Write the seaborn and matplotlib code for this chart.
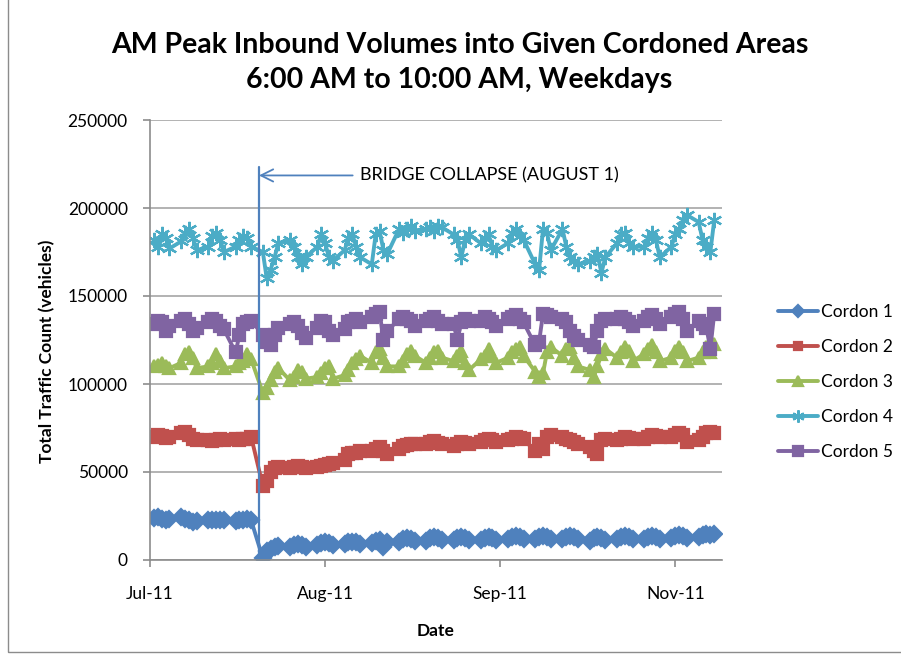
import numpy as np
import pandas as pd
import matplotlib
matplotlib.use("Agg")
import matplotlib.pyplot as plt
from matplotlib.patches import Rectangle
import seaborn as sns

# weekday dates of the counts (one week per row in the lists below)
dates = pd.bdate_range("2007-07-02", "2007-11-23")

cordon_1 = [
    24000, 24500, 23500, 23000, 23500,
    24500, 23500, 22500, 21500, 22000,
    22500, 23000, 22500, 23000, 22500,
    22000, 22500, 23000, 23500, 22500,
    1000, 5000, 6500, 7500, 8000,
    7500, 8500, 9000, 8500, 7500,
    8500, 9500, 10000, 9500, 8500,
    9000, 10000, 10500, 10000, 9000,
    9500, 11000, 11500, 7500, 10000,
    10500, 12000, 12500, 12000, 11000,
    11000, 12500, 13000, 12500, 11500,
    11500, 12500, 13000, 12500, 11500,
    11500, 12500, 13000, 12500, 11500,
    12000, 13000, 13500, 13000, 12000,
    12000, 13000, 13500, 13000, 12000,
    12000, 13000, 13500, 13000, 12000,
    11000, 12500, 13000, 12500, 11500,
    12000, 13000, 13500, 13000, 12000,
    12000, 13000, 13500, 13000, 12000,
    12500, 13500, 14000, 13500, 12500,
    13000, 14000, 14500, 14000, 14500,
]
cordon_2 = [
    70000, 71000, 70500, 69500, 70000,
    72000, 72500, 71000, 68500, 68000,
    68000, 67500, 68000, 68500, 68000,
    69000, 68000, 68500, 69000, 70000,
    42000, 45000, 50000, 52000, 53000,
    52000, 53000, 53500, 53000, 52500,
    53000, 53500, 54000, 54500, 55000,
    57000, 60000, 61000, 61000, 62000,
    62000, 63000, 64000, 62000, 60000,
    63000, 65000, 65500, 66000, 66000,
    66000, 67000, 67500, 66500, 66000,
    65000, 66000, 67000, 66500, 66000,
    67000, 68000, 68500, 68000, 67000,
    68000, 69000, 70000, 69500, 68500,
    62000, 66000, 63000, 70000, 71000,
    70000, 69000, 68000, 67000, 66000,
    64000, 62000, 60000, 68000, 69000,
    68000, 69000, 70000, 69500, 69000,
    69000, 70000, 71000, 70500, 70000,
    70000, 71000, 72000, 71000, 67000,
    68000, 70000, 72000, 72500, 72000,
]
cordon_3 = [
    110000, 111000, 112000, 110000, 109000,
    112000, 117000, 118000, 115000, 109000,
    110000, 112000, 117000, 113000, 109000,
    110000, 112000, 113000, 117000, 114000,
    95000, 98000, 102000, 107000, 109000,
    102000, 104000, 108000, 107000, 103000,
    104000, 106000, 109000, 110000, 103000,
    105000, 108000, 112000, 114000, 116000,
    112000, 118000, 120000, 115000, 110000,
    110000, 113000, 117000, 119000, 116000,
    112000, 115000, 118000, 119000, 115000,
    113000, 116000, 119000, 112000, 108000,
    114000, 116000, 120000, 116000, 112000,
    115000, 118000, 120000, 121000, 116000,
    107000, 104000, 106000, 118000, 121000,
    116000, 120000, 121000, 115000, 110000,
    108000, 104000, 110000, 117000, 120000,
    115000, 118000, 121000, 119000, 113000,
    117000, 120000, 122000, 118000, 113000,
    115000, 119000, 121000, 118000, 113000,
    115000, 118000, 121000, 118000, 123000,
]
cordon_4 = [
    182000, 178000, 185000, 183000, 177000,
    181000, 186000, 188000, 183000, 176000,
    178000, 184000, 186000, 182000, 175000,
    178000, 182000, 184000, 183000, 178000,
    175000, 160000, 165000, 172000, 180000,
    182000, 178000, 172000, 168000, 172000,
    178000, 185000, 180000, 172000, 170000,
    176000, 183000, 185000, 178000, 172000,
    168000, 185000, 187000, 176000, 174000,
    188000, 186000, 188000, 190000, 187000,
    188000, 189000, 187000, 190000, 189000,
    185000, 182000, 172000, 182000, 185000,
    180000, 183000, 185000, 178000, 176000,
    180000, 186000, 188000, 184000, 182000,
    168000, 165000, 188000, 186000, 176000,
    188000, 178000, 172000, 170000, 168000,
    170000, 172000, 174000, 163000, 172000,
    180000, 185000, 186000, 180000, 178000,
    178000, 183000, 186000, 182000, 172000,
    178000, 185000, 188000, 193000, 196000,
    192000, 182000, 178000, 175000, 193000,
]
cordon_5 = [
    134000, 136000, 135000, 130000, 133000,
    136000, 137000, 134000, 130000, 132000,
    135000, 137000, 136000, 133000, 131000,
    118000, 128000, 134000, 135000, 136000,
    128000, 124000, 122000, 128000, 132000,
    134000, 135000, 133000, 129000, 126000,
    132000, 136000, 135000, 130000, 128000,
    131000, 135000, 136000, 137000, 135000,
    138000, 140000, 141000, 125000, 130000,
    137000, 138000, 137000, 136000, 133000,
    136000, 137000, 138000, 136000, 134000,
    134000, 125000, 135000, 137000, 136000,
    136000, 138000, 137000, 135000, 133000,
    137000, 138000, 139000, 137000, 135000,
    122000, 124000, 140000, 139000, 138000,
    137000, 135000, 130000, 127000, 125000,
    122000, 121000, 130000, 136000, 137000,
    137000, 138000, 137000, 135000, 133000,
    136000, 138000, 139000, 137000, 134000,
    138000, 140000, 141000, 137000, 130000,
    136000, 134000, 132000, 120000, 140000,
]

series_names = ["Cordon 1", "Cordon 2", "Cordon 3", "Cordon 4", "Cordon 5"]
series_values = [cordon_1, cordon_2, cordon_3, cordon_4, cordon_5]
series_colors = ["#4F81BD", "#C0504D", "#9BBB59", "#4BACC6", "#8064A2"]
series_markers = ["D", "s", "^", (6, 2, 0), "s"]
series_msize = [8, 8, 9, 11, 9]

tick_dates = pd.to_datetime(["2007-07-01", "2007-08-15", "2007-09-29", "2007-11-13"])
tick_labels = ["Jul-11", "Aug-11", "Sep-11", "Nov-11"]
collapse_date = pd.Timestamp("2007-07-29")
collapse_label = "BRIDGE COLLAPSE (AUGUST 1)"

sns.set_style("white")
plt.rcParams["font.family"] = ["Lato", "DejaVu Sans"]
plt.rcParams["text.color"] = "black"
plt.rcParams["axes.labelcolor"] = "black"

fig = plt.figure(figsize=(9.01, 6.60), dpi=100)
ax = fig.add_axes([150 / 901, 1 - 560 / 660, 572 / 901, 440 / 660])

for name, vals, col, mk, ms in zip(series_names, series_values, series_colors,
                                   series_markers, series_msize):
    df = pd.DataFrame({"date": dates, "count": vals})
    sns.lineplot(data=df, x="date", y="count", ax=ax, color=col, linewidth=2.8,
                 marker=mk, markersize=ms, markeredgecolor=col, markerfacecolor=col,
                 markeredgewidth=1.6, label=name)

ax.set_ylim(0, 250000)
ax.set_yticks(np.arange(0, 250001, 50000))
ax.set_xlim(pd.Timestamp("2007-07-01"), pd.Timestamp("2007-11-25"))
ax.set_xticks(tick_dates)
ax.set_xticklabels(tick_labels)
ax.yaxis.grid(True, color="#a6a6a6", linewidth=1.2)
ax.xaxis.grid(False)
for side in ["top", "right"]:
    ax.spines[side].set_visible(False)
for side in ["left", "bottom"]:
    ax.spines[side].set_color("#8c8c8c")
    ax.spines[side].set_linewidth(1.2)
ax.tick_params(axis="both", which="major", labelsize=12.5, colors="#8c8c8c",
               labelcolor="black", length=5, width=1.2, direction="out",
               left=True, bottom=True)
ax.tick_params(axis="x", pad=14)
ax.tick_params(axis="y", pad=11)

ax.set_xlabel("Date", fontsize=12.5, fontweight="bold")
ax.set_ylabel("Total Traffic Count (vehicles)", fontsize=12.5, fontweight="bold")
ax.xaxis.set_label_coords((436 - 150) / 572, -(623 - 560) / 440)
ax.yaxis.set_label_coords(-(150 - 55) / 572, (560 - 351) / 440)

# bridge collapse marker
ax.axvline(collapse_date, ymin=0, ymax=(560 - 167) / 440, color="#4F81BD", linewidth=1.6)
ax.annotate(collapse_label, xy=(collapse_date, 218500),
            xytext=(pd.Timestamp("2007-08-24"), 218500),
            fontsize=13, va="center", ha="left",
            arrowprops=dict(arrowstyle="->", color="#4F81BD", lw=1.3,
                            mutation_scale=22, shrinkA=3, shrinkB=0))

fig.text(0.51, 1 - 45 / 660, "AM Peak Inbound Volumes into Given Cordoned Areas",
         ha="center", va="center", fontsize=20.5, fontweight="bold")
fig.text(0.51, 1 - 80 / 660, "6:00 AM to 10:00 AM, Weekdays",
         ha="center", va="center", fontsize=20.5, fontweight="bold")

leg = ax.legend(loc="center left", bbox_to_anchor=((771 - 150) / 572, 0.405),
                frameon=False, fontsize=12.5, handlelength=2.3, labelspacing=1.1,
                handletextpad=0.2, markerscale=0.8, borderaxespad=0)

fig.patches.append(Rectangle((8 / 901, 8 / 660), 1.2, 1.2, transform=fig.transFigure,
                             fill=False, edgecolor="#8c8c8c", linewidth=1.0))

fig.savefig("out.png", dpi=100)
